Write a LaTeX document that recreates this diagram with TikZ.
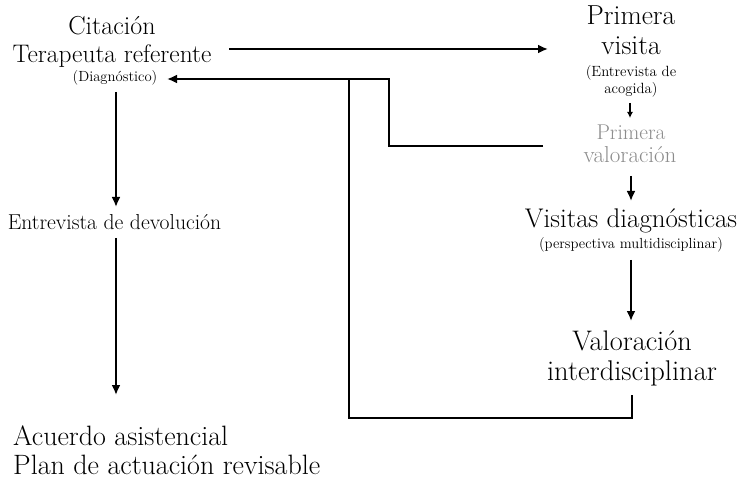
\documentclass[tikz,border=0pt]{standalone}
\usetikzlibrary{arrows.meta}
\definecolor{grayt}{HTML}{8C8C8C}
\newcommand{\fs}[1]{\fontsize{#1}{#1}\selectfont}
\begin{document}
\begin{tikzpicture}[x=1pt,y=-1pt,
  txt/.style={inner sep=0pt, anchor=base},
  conn/.style={line width=2.5pt},
  arr/.style={conn, -{Latex[length=10pt,width=9pt]}},
  sarr/.style={conn, -{Latex[length=6pt,width=6pt]}}]
\useasboundingbox (0,0) rectangle (742,481);
% left column
\node[txt, font=\fs{26}] (cit) at (112,35) {Citación};
\node[txt, font=\fs{25.4}] (ter) at (112,63) {Terapeuta referente};
\node[txt, font=\fs{14.7}] (diag) at (115,82) {(Diagnóstico)};
\node[txt, font=\fs{21.6}] (dev) at (114.5,230) {Entrevista de devolución};
\node[txt, anchor=base west, font=\fs{28}] (acu) at (13,445) {Acuerdo asistencial};
\node[txt, anchor=base west, font=\fs{28}] (plan) at (13,474) {Plan de actuación revisable};
% right column
\node[txt, font=\fs{27.5}] (pv1) at (631,25) {Primera};
\node[txt, font=\fs{27.5}] (pv2) at (631,55) {visita};
\node[txt, font=\fs{14.8}] (ent1) at (631,77) {(Entrevista de};
\node[txt, font=\fs{14.8}] (ent2) at (631,94) {acogida)};
\node[txt, font=\fs{21.4}, text=grayt] (pval1) at (631,140) {Primera};
\node[txt, font=\fs{23}, text=grayt] (pval2) at (630,163) {valoración};
\node[txt, font=\fs{27}] (vd) at (631,228) {Visitas diagnósticas};
\node[txt, font=\fs{14.6}] (pm) at (631,249) {(perspectiva multidisciplinar)};
\node[txt, font=\fs{28.3}] (vi1) at (632,350) {Valoración};
\node[txt, font=\fs{28.5}] (vi2) at (632,380) {interdisciplinar};
% connector end points
\coordinate (a1) at (229,49);   \coordinate (a2) at (548,49);
\coordinate (b1) at (543,146);  \coordinate (b2) at (389,146);
\coordinate (b3) at (389,79);   \coordinate (b4) at (167,79);
\coordinate (c1) at (632,395);  \coordinate (c2) at (632,418);
\coordinate (c3) at (349,418);  \coordinate (c4) at (349,79);
\coordinate (d1) at (116,92);   \coordinate (d2) at (116,207);
\coordinate (e1) at (116,238);  \coordinate (e2) at (116,395);
\coordinate (f1) at (630,103);  \coordinate (f2) at (630,118);
\coordinate (g1) at (631,176);  \coordinate (g2) at (631,201);
\coordinate (h1) at (631,260);  \coordinate (h2) at (631,321);
% connectors
\draw[arr] (a1) -- (a2);
\draw[arr] (b1) -- (b2) -- (b3) -- (b4);
\draw[conn] (c1) -- (c2) -- (c3) -- (c4);
\draw[arr] (d1) -- (d2);
\draw[arr] (e1) -- (e2);
\draw[sarr] (f1) -- (f2);
\draw[arr] (g1) -- (g2);
\draw[arr] (h1) -- (h2);
\end{tikzpicture}
\end{document}
